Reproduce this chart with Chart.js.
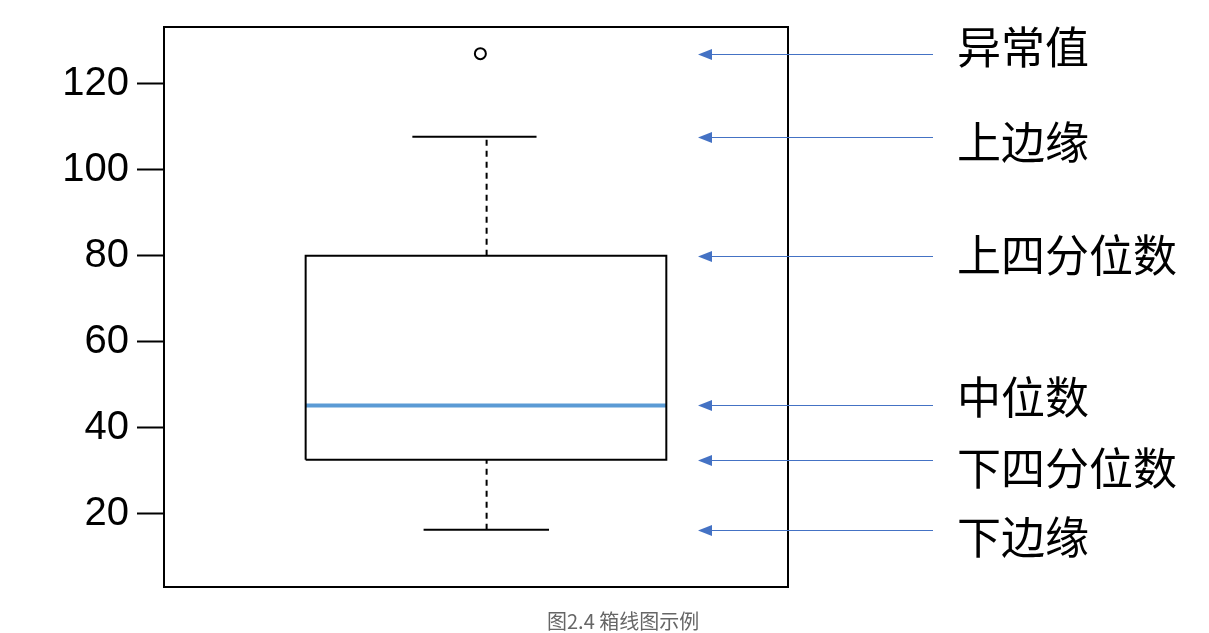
<!DOCTYPE html>
<html lang="zh">
<head>
<meta charset="utf-8">
<title>箱线图示例</title>
<script src="https://cdn.jsdelivr.net/npm/chart.js@4/dist/chart.umd.min.js"></script>
<style>
  html,body{margin:0;padding:0;background:#fff;}
  #wrap{position:relative;width:1209px;height:633px;}
  #cap{position:absolute;left:547px;top:606px;font:20px "Noto Sans CJK SC","Noto Sans",sans-serif;color:#666;white-space:nowrap;}
</style>
</head>
<body>
<div id="wrap">
  <canvas id="c" width="1209" height="633"></canvas>
  <div id="cap">图2.4 箱线图示例</div>
</div>
<script>
/* ─── DATA ──────────────────────────────────────────── */
const categories=['样本'];
const lowerEdge=[16.3];
const lowerQuartile=[32.6];
const medianVal=[45.2];
const upperQuartile=[80];
const upperEdge=[107.7];
const outliers=[127];
const yTicks=[20,40,60,80,100,120];
const noteLabels=['异常值','上边缘','上四分位数','中位数','下四分位数','下边缘'];

/* ─── LAYOUT (x in 0..100 across the plot frame) ────── */
const BOX_L=22.7,BOX_R=80.5,MID=51.7,OUT_X=50.7;
const CAP_UP=[39.8,59.7],CAP_LO=[41.6,61.7];
const LABEL_DY=[-7,5,-1,-8,8,7];
const BLUE='#4472C4';

const i=0;
const noteValues=[outliers[i],upperEdge[i],upperQuartile[i],medianVal[i],lowerQuartile[i],lowerEdge[i]];

const line=(pts,extra)=>Object.assign({type:'line',data:pts,borderColor:'#000',borderWidth:2,pointRadius:0,fill:false,tension:0,showLine:true},extra||{});

/* frame + arrows + labels */
const decor={
  id:'decor',
  afterDraw(chart){
    const {ctx,chartArea:a,scales:{y}}=chart;
    ctx.save();
    ctx.strokeStyle='#000';ctx.lineWidth=2;
    ctx.strokeRect(a.left,a.top,a.right-a.left,a.bottom-a.top);
    noteValues.forEach((v,k)=>{
      const py=Math.round(y.getPixelForValue(v))+0.5;
      ctx.strokeStyle=BLUE;ctx.lineWidth=1;
      ctx.beginPath();ctx.moveTo(933,py);ctx.lineTo(708,py);ctx.stroke();
      ctx.fillStyle=BLUE;
      ctx.beginPath();ctx.moveTo(698,py);ctx.lineTo(712,py-5.5);ctx.lineTo(712,py+5.5);ctx.closePath();ctx.fill();
      ctx.fillStyle='#000';ctx.font='44px "Noto Sans CJK SC"';
      ctx.textAlign='left';ctx.textBaseline='middle';
      ctx.fillText(noteLabels[k],957,py+LABEL_DY[k]);
    });
    ctx.restore();
  }
};

new Chart(document.getElementById('c'),{
  type:'line',
  data:{datasets:[
    line([{x:BOX_L,y:lowerQuartile[i]},{x:BOX_R,y:lowerQuartile[i]},{x:BOX_R,y:upperQuartile[i]},{x:BOX_L,y:upperQuartile[i]},{x:BOX_L,y:lowerQuartile[i]}],{label:categories[i]}),
    line([{x:MID,y:upperQuartile[i]},{x:MID,y:upperEdge[i]}],{borderDash:[6,5]}),
    line([{x:MID,y:lowerEdge[i]},{x:MID,y:lowerQuartile[i]}],{borderDash:[6,5]}),
    line([{x:CAP_UP[0],y:upperEdge[i]},{x:CAP_UP[1],y:upperEdge[i]}]),
    line([{x:CAP_LO[0],y:lowerEdge[i]},{x:CAP_LO[1],y:lowerEdge[i]}]),
    line([{x:BOX_L,y:medianVal[i]},{x:BOX_R,y:medianVal[i]}],{borderColor:'#5B9BD5',borderWidth:4}),
    {type:'scatter',data:outliers.map(v=>({x:OUT_X,y:v})),pointRadius:5.5,pointBorderWidth:2,
     pointBorderColor:'#000',pointBackgroundColor:'#fff',showLine:false}
  ]},
  options:{
    responsive:false,animation:false,
    layout:{padding:{left:0,top:27,right:421,bottom:46}},
    plugins:{legend:{display:false},tooltip:{enabled:false}},
    scales:{
      x:{type:'linear',min:0,max:100,display:false},
      y:{type:'linear',min:3,max:133.2,
        afterBuildTicks:s=>{s.ticks=yTicks.map(v=>({value:v}));},
        afterFit:s=>{s.width=164;s.paddingTop=0;s.paddingBottom=0;},
        border:{display:false},
        grid:{drawOnChartArea:false,drawTicks:true,tickLength:27,color:'#000',tickColor:'#000',tickWidth:2},
        ticks:{padding:8,color:'#000',font:{family:'"Liberation Sans", Arial',size:40,lineHeight:1}}
      }
    }
  },
  plugins:[decor]
});
</script>
</body>
</html>
